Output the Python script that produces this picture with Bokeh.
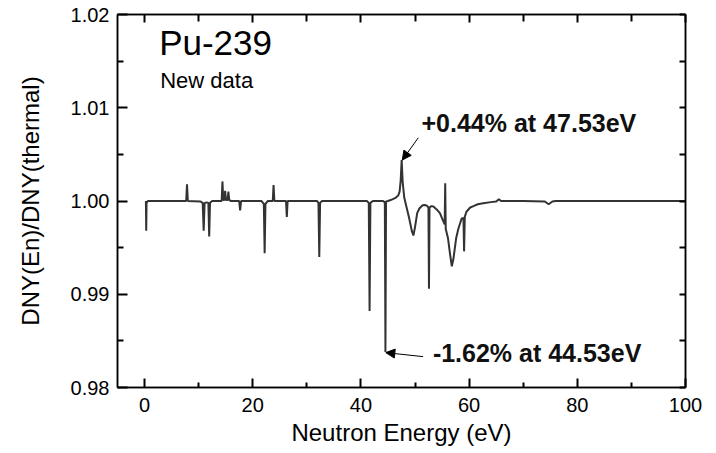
from bokeh.plotting import figure
from bokeh.models import (Range1d, LinearAxis, FixedTicker, NumeralTickFormatter,
                          Label, Arrow, NormalHead)
from bokeh.embed import file_html
from bokeh.resources import INLINE

# ---- data (energy in eV, ratio DNY(En)/DNY(thermal)) ----
energy = [
    0.25, 0.31, 0.37, 0.6,
    7.7, 7.85, 8.0,
    10.3, 10.75, 10.93, 11.1, 11.5, 11.8, 11.95, 12.1, 12.5,
    14.25, 14.4, 14.55, 14.75, 14.9, 15.05, 15.35, 15.5, 15.65, 16.0,
    17.5, 17.67, 17.85,
    21.6, 22.05, 22.2, 22.35, 22.8,
    23.7, 23.85, 24.0,
    26.15, 26.3, 26.45,
    31.9, 32.15, 32.3, 32.45, 32.8,
    41.1, 41.45, 41.6, 41.75, 42.2,
    44.1, 44.42, 44.53, 44.64, 45.0, 45.5, 46.3, 46.9,
    47.15, 47.35, 47.53, 47.72, 48.0, 48.4, 48.9, 49.4, 49.7, 50.0, 50.4, 50.8,
    51.4, 51.8, 52.2, 52.48, 52.58, 52.68, 53.0, 53.4, 54.0, 54.6, 55.1, 55.48,
    55.58, 55.68, 56.1, 56.5, 56.8, 57.1, 57.6, 58.0, 58.6, 58.95, 59.07, 59.2,
    59.5, 60.2, 60.8, 61.6, 62.6, 64.0, 65.0, 65.5, 65.9, 70.0,
    74.0, 74.7, 75.4, 76.0, 100.0,
]
ratio = [
    1.0000, 0.9968, 0.9998, 1.0000,
    1.0000, 1.0018, 1.0000,
    0.99995, 0.9998, 0.9968, 0.9998, 0.99985, 0.9998, 0.9962, 0.9998, 1.0000,
    1.0000, 1.0021, 1.0001, 1.0001, 1.0011, 1.0001, 1.0001, 1.0010, 1.0001, 1.0000,
    1.0000, 0.9990, 1.0000,
    1.0000, 0.9997, 0.9944, 0.9997, 1.0000,
    1.0000, 1.0017, 1.0000,
    1.0000, 0.9983, 1.0000,
    1.0000, 0.9998, 0.9940, 0.9998, 1.0000,
    1.0000, 0.9998, 0.9882, 0.9998, 1.0000,
    1.0000, 0.99985, 0.9838, 0.99995, 1.0000, 1.0001, 1.0003, 1.0006,
    1.0010, 1.0022, 1.0044, 1.0020, 1.0004, 0.9994, 0.9982, 0.9968, 0.9963, 0.9972, 0.9987, 0.9992,
    0.99955, 0.99957, 0.9995, 0.9993, 0.9906, 0.9993, 0.99945, 0.9994, 0.9991, 0.9987, 0.9980, 0.9975,
    1.0019, 0.9970, 0.9960, 0.9942, 0.9930, 0.9938, 0.9960, 0.9970, 0.9981, 0.9982, 0.9946, 0.9983,
    0.99885, 0.9993, 0.99945, 0.99965, 0.99975, 0.99988, 0.99995, 1.0002, 1.0000, 1.0000,
    0.99995, 0.99965, 0.99995, 1.0000, 1.0000,
]

x_ticks = [0, 20, 40, 60, 80, 100]
x_minor = [10, 30, 50, 70, 90]
y_ticks = [0.98, 0.99, 1.00, 1.01, 1.02]
y_minor = [0.985, 0.995, 1.005, 1.015]

X0, X1 = -5, 100
Y0, Y1 = 0.98, 1.02
FONT = "Liberation Sans"

W, H = 716, 453
BL, BR, BT, BB = 117, 31, 14, 66

p = figure(width=W, height=H, output_backend="svg", toolbar_location=None,
           x_range=Range1d(X0, X1), y_range=Range1d(Y0, Y1),
           min_border_left=BL, min_border_right=BR, min_border_top=BT, min_border_bottom=BB)
p.background_fill_color = "white"
p.border_fill_color = "white"
p.xgrid.visible = False
p.ygrid.visible = False
p.outline_line_color = "black"
p.outline_line_width = 1.5

p.line(energy, ratio, line_color="#333333", line_width=2)

def style(ax, ticks, minor, fsize, label_standoff, tin, tin_minor):
    ax.ticker = FixedTicker(ticks=ticks, minor_ticks=minor)
    ax.axis_line_color = "black"
    ax.axis_line_width = 1.5
    ax.major_tick_in = tin
    ax.major_tick_out = 0
    ax.minor_tick_in = tin_minor
    ax.minor_tick_out = 0
    ax.major_tick_line_color = "black"
    ax.minor_tick_line_color = "black"
    ax.major_tick_line_width = 2
    ax.minor_tick_line_width = 2
    ax.major_label_text_font = FONT
    ax.major_label_text_font_size = fsize
    ax.major_label_text_color = "black"
    ax.major_label_standoff = label_standoff

xa = p.xaxis[0]
style(xa, x_ticks, x_minor, "20px", 10, 9, 5)
xa.axis_label = "Neutron Energy (eV)"
xa.axis_label_text_font = FONT
xa.axis_label_text_font_size = "24px"
xa.axis_label_text_font_style = "normal"
xa.axis_label_text_color = "black"
xa.axis_label_standoff = 4

ya = p.yaxis[0]
style(ya, y_ticks, y_minor, "20px", 8, 10, 6)
ya.formatter = NumeralTickFormatter(format="0.00")
ya.axis_label = "DNY(En)/DNY(thermal)"
ya.axis_label_text_font = FONT
ya.axis_label_text_font_size = "24px"
ya.axis_label_text_font_style = "normal"
ya.axis_label_text_color = "black"
ya.axis_label_standoff = 24

top = LinearAxis()
style(top, x_ticks, x_minor, "0px", 0, 8, 7)
top.major_label_text_color = None
p.add_layout(top, "above")

right = LinearAxis()
style(right, y_ticks, y_minor, "0px", 0, 6, 6)
right.major_label_text_color = None
p.add_layout(right, "right")

p.add_layout(Label(x=2.7, y=1.0149, text="Pu-239", text_font=FONT,
                   text_font_size="35px", text_color="black"))
p.add_layout(Label(x=2.9, y=1.0116, text="New data", text_font=FONT,
                   text_font_size="22px", text_color="black"))

p.add_layout(Label(x=51.2, y=1.00686, text="+0.44% at 47.53eV", text_font=FONT,
                   text_font_size="25px", text_font_style="bold", text_color="#111111"))
p.add_layout(Label(x=53.3, y=0.98221, text="-1.62% at  44.53eV", text_font=FONT,
                   text_font_size="25px", text_font_style="bold", text_color="#111111"))

p.add_layout(Arrow(end=NormalHead(size=9, fill_color="black", line_color="black"),
                   x_start=50.6, y_start=1.00678, x_end=47.65, y_end=1.00439,
                   line_color="black", line_width=1))
p.add_layout(Arrow(end=NormalHead(size=9, fill_color="black", line_color="black"),
                   x_start=51.5, y_start=0.98331, x_end=44.6, y_end=0.98374,
                   line_color="black", line_width=1))

open("out.html", "w").write(file_html(p, INLINE))
